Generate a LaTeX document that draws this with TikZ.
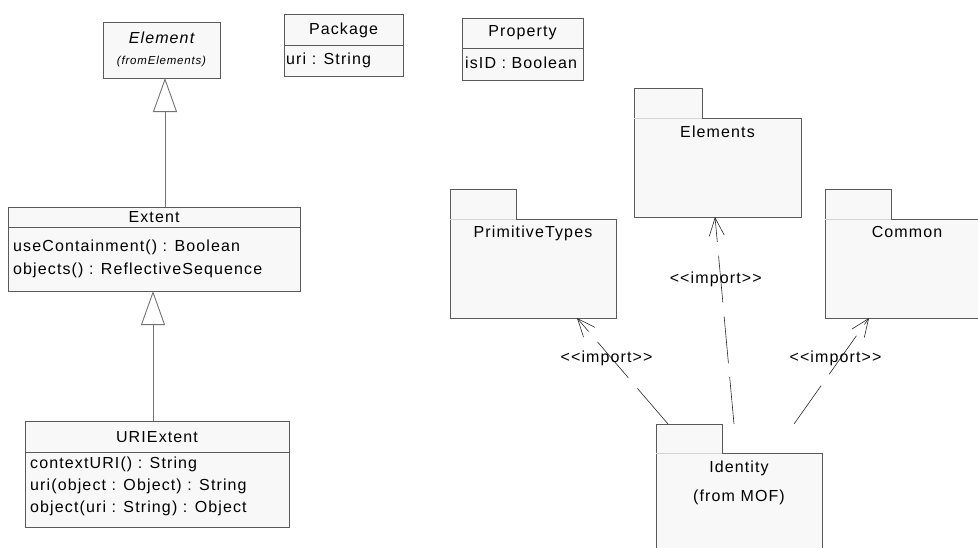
\documentclass[tikz,border=0pt]{standalone}
\usepackage{fontspec}
\usepackage{tikz}
\usetikzlibrary{arrows.meta,calc}
\newfontfamily\umlfont[LetterSpace=7]{Liberation Sans}
\newcommand{\umltext}{\umlfont\fontsize{16pt}{19pt}\selectfont}
\newcommand{\umlsmall}{\umlfont\fontsize{11.5pt}{13pt}\selectfont}
\definecolor{umlline}{HTML}{5A5A5A}
\definecolor{umlfill}{HTML}{F8F8F8}
\definecolor{tabline}{HTML}{D4D4D4}

\begin{document}
\begin{tikzpicture}[
    x=1pt, y=-1pt,
    cls/.style={rectangle, draw=umlline, fill=umlfill, line width=0.9pt, anchor=north west, inner sep=0pt, outer sep=0pt},
    divider/.style={draw=umlline, line width=0.9pt},
    title/.style={font=\umltext, inner sep=0pt},
    attr/.style={font=\umltext, anchor=west, inner sep=0pt},
    stereo/.style={font=\umltext, inner sep=0pt, xshift=-5pt},
    gen/.style={draw=black!55, line width=0.9pt, -{Triangle[fill=white, length=34pt, width=24pt]}},
    dep/.style={draw=black!85, line width=0.6pt, dash pattern=on 47pt off 14pt, -{Straight Barb[length=18pt, width=15pt]}}
]
\useasboundingbox (0,0) rectangle (978,547);
\clip (0,0) rectangle (978,547);

% Classes
\node[cls, minimum width=117pt, minimum height=56pt] (element) at (103,22) {};
\node[title, font=\umltext\itshape] (element-name) at (161.5,38) {Element};
\node[title, font=\umlsmall\itshape] (element-from) at (161.5,62) {(fromElements)};

\node[cls, minimum width=119pt, minimum height=62pt] (package) at (284,14) {};
\draw[divider] (package.west |- 0,45) -- (package.east |- 0,45);
\node[title] (package-name) at (343.5,30) {Package};
\node[attr] (package-uri) at (286,60) {uri : String};

\node[cls, minimum width=121pt, minimum height=62pt] (property) at (462,18) {};
\draw[divider] (property.west |- 0,48) -- (property.east |- 0,48);
\node[title] (property-name) at (522.5,33) {Property};
\node[attr] (property-isid) at (465,63) {isID : Boolean};

\node[cls, minimum width=292pt, minimum height=84pt] (extent) at (8,207) {};
\draw[divider] (extent.west |- 0,227) -- (extent.east |- 0,227);
\node[title] (extent-name) at (154,217) {Extent};
\node[attr] (extent-op1) at (13,247) {useContainment() : Boolean};
\node[attr] (extent-op2) at (13,270) {objects() : ReflectiveSequence};

\node[cls, minimum width=264pt, minimum height=106pt] (uriext) at (25,421) {};
\draw[divider] (uriext.west |- 0,452) -- (uriext.east |- 0,452);
\node[title] (uriext-name) at (157,437) {URIExtent};
\node[attr] (uriext-op1) at (30,464) {contextURI() : String};
\node[attr] (uriext-op2) at (30,486) {uri(object : Object) : String};
\node[attr] (uriext-op3) at (30,508) {object(uri : String) : Object};

% Generalizations
\draw[gen] ($(extent.north)+(11,0)$) -- ($(element.south)+(3.5,0)$);
\draw[gen] ($(uriext.north)+(-4,0)$) -- ($(extent.south)+(-1,0)$);

% Packages
\node[cls, minimum width=66pt, minimum height=30pt] (prim-tab) at (450,189) {};
\node[cls, minimum width=166pt, minimum height=99pt] (prim) at (450,219) {};
\draw[tabline] (prim-tab.south west) -- (prim-tab.south east);
\node[title] (prim-name) at (533,233) {PrimitiveTypes};

\node[cls, minimum width=68pt, minimum height=30pt] (elements-tab) at (634,88) {};
\node[cls, minimum width=167pt, minimum height=99pt] (elements) at (634,118) {};
\draw[tabline] (elements-tab.south west) -- (elements-tab.south east);
\node[title] (elements-name) at (717.5,132) {Elements};

\node[cls, minimum width=66pt, minimum height=30pt] (common-tab) at (825,189) {};
\node[cls, minimum width=170pt, minimum height=99pt] (common) at (825,219) {};
\draw[tabline] (common-tab.south west) -- (common-tab.south east);
\node[title] (common-name) at (907,232) {Common};

\node[cls, minimum width=66pt, minimum height=29pt] (identity-tab) at (656,424) {};
\node[cls, minimum width=166pt, minimum height=110pt] (identity) at (656,453) {};
\draw[tabline] (identity-tab.south west) -- (identity-tab.south east);
\node[title] (identity-name) at (739,468) {Identity};
\node[title] (identity-from) at (739,497) {(from MOF)};

% Imports
\coordinate (imp-prim) at (668,424);
\coordinate (imp-elements) at (734,424);
\coordinate (imp-common) at (794,424);
\draw[dep] (imp-prim) -- node[stereo, pos=0.62] (lbl-prim) {<<import>>} ($(prim.south west)+(127,0)$);
\draw[dep] (imp-elements) -- node[stereo, pos=0.70] (lbl-elements) {<<import>>} ($(elements.south)+(-2.5,0)$);
\draw[dep] (imp-common) -- node[stereo, pos=0.62] (lbl-common) {<<import>>} ($(common.south west)+(44,0)$);

\end{tikzpicture}
\end{document}
